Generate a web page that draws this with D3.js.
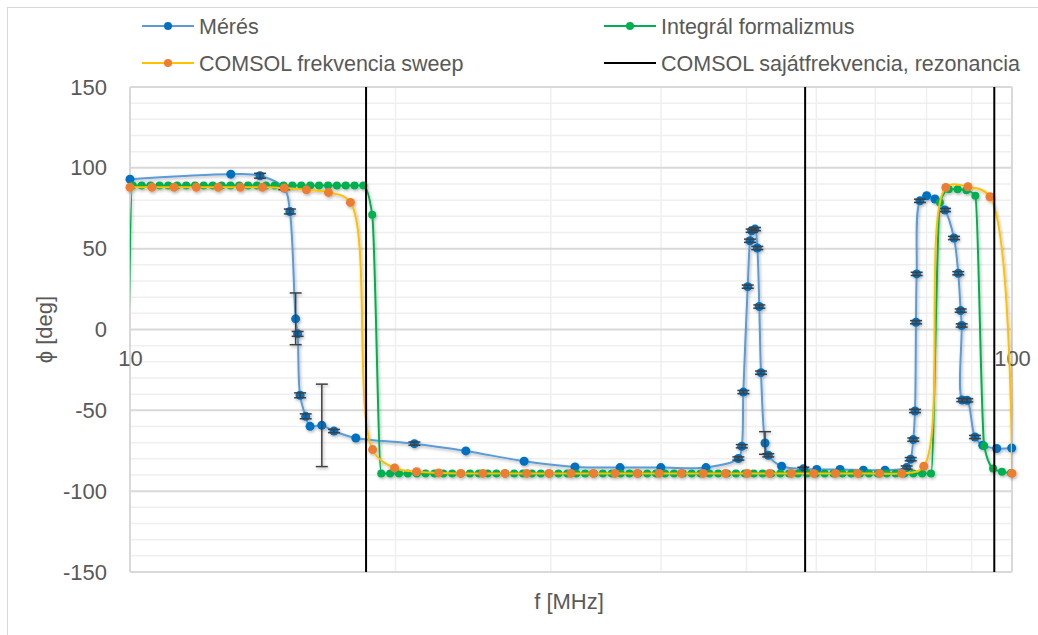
<!DOCTYPE html>
<html>
<head>
<meta charset="utf-8">
<title>Fázis - frekvencia</title>
<script src="https://d3js.org/d3.v7.min.js"></script>
<style>
body { margin: 0; background: #fff; }
svg { display: block; }
svg text { font-family: "Liberation Sans", Arial, sans-serif; fill: #595959; }
</style>
</head>
<body>
<div id="root"></div>
<script>
// --- data ---
let seriesNames = ['Mérés', 'Integrál formalizmus', 'COMSOL frekvencia sweep', 'COMSOL sajátfrekvencia, rezonancia'];

let measFreq = [10, 13.01, 14.04, 14.96, 15.18, 15.41, 15.49, 15.59, 15.82, 16.00,
    16.50, 17.03, 18.03, 21.01, 24.03, 27.98, 31.95, 35.94, 39.98, 44.98,
    48.95, 49.39, 49.59, 50.16, 50.46, 50.68, 51.12, 51.43, 51.70, 51.93,
    52.48, 52.93, 54.80, 58.00, 60.06, 63.82, 67.84, 71.78, 75.96, 76.76,
    77.28, 77.63, 77.83, 77.97, 78.64, 80.03, 81.78, 83.95, 85.94, 86.91,
    87.46, 87.69, 87.82, 88.97, 90.78, 92.65, 96.08, 99.92];
let measPhase = [93.0, 96.1, 95.1, 87.5, 73.0, 6.6, -2.7, -40.7, -53.7, -59.9,
    -59.3, -62.8, -67.1, -70.6, -75.1, -81.5, -85.0, -85.4, -85.4, -85.4,
    -79.8, -72.2, -38.7, 26.5, 54.9, 61.1, 62.1, 50.4, 14.2, -26.7,
    -70.2, -77.8, -84.6, -86.2, -86.6, -86.6, -87.0, -87.0, -85.4, -80.2,
    -68.1, -50.4, 4.5, 34.4, 79.6, 82.7, 80.7, 73.9, 56.6, 34.8,
    11.7, 2.5, -43.6, -43.8, -66.5, -71.6, -73.6, -73.3];
let measErr = [0, 0, 1.5, 1, 1.5, 16, 1.5, 1.5, 1.5, 0,
    25.5, 1, 0, 1, 0, 0, 0, 0, 0, 0,
    1, 1, 1, 1, 1, 1, 1, 1, 1, 1,
    7, 1, 0, 1, 0, 0, 0, 0, 1, 1,
    1, 1, 1, 1, 1, 0, 0, 1, 1, 1,
    1, 1, 1, 1, 1, 0, 0, 0];

let integralFreq = [9.84,
    10.07, 10.31, 10.55, 10.80, 11.05, 11.31, 11.58, 11.85, 12.12, 12.41,
    12.70, 13.00, 13.30, 13.61, 13.93, 14.26, 14.59, 14.93, 15.28, 15.64,
    16.01, 16.38, 16.77, 17.16, 17.56, 17.97, 18.39, 18.82, 19.27, 19.72,
    20.18, 20.65, 21.14, 21.63, 22.14, 22.66, 23.19, 23.73, 24.29, 24.86,
    25.44, 26.03, 26.64, 27.26, 27.90, 28.55, 29.22, 29.90, 30.60, 31.32,
    32.06, 32.81, 33.58, 34.36, 35.17, 35.99, 36.83, 37.70, 38.58, 39.48,
    40.42, 41.37, 42.34, 43.33, 44.34, 45.38, 46.44, 47.53, 48.64, 49.78,
    50.95, 52.14, 53.36, 54.61, 55.89, 57.20, 58.54, 59.91, 61.31, 62.75,
    64.21, 65.72, 67.26, 68.83, 70.45, 72.10, 73.78, 75.51, 77.28, 79.09,
    80.94, 82.84, 84.78, 86.76, 88.79, 90.87, 93.00, 95.18, 97.41, 99.73];
let integralPhase = [-269,
    89, 89, 89, 89, 89, 89, 89, 89, 89, 89,
    89, 89, 89, 89, 89, 89, 89, 89, 89, 89,
    89, 89, 89, 89, 89, 89, 89, 71, -89, -89,
    -89, -89, -89, -89, -89, -89, -89, -89, -89, -89,
    -89, -89, -89, -89, -89, -89, -89, -89, -89, -89,
    -89, -89, -89, -89, -89, -89, -89, -89, -89, -89,
    -89, -89, -89, -89, -89, -89, -89, -89, -89, -89,
    -89, -89, -89, -89, -89, -89, -89, -89, -89, -89,
    -89, -89, -89, -89, -89, -89, -89, -89, -89, -89,
    -89, 78.6, 86.8, 86.8, 86.2, 82.7, -72, -86, -88, -88.7];

let sweepFreq = [10, 10.59, 11.22, 11.89, 12.59, 13.34, 14.13, 14.96, 15.85, 16.79,
    17.78, 18.84, 19.95, 21.13, 22.39, 23.71, 25.12, 26.61, 28.18, 29.85,
    31.62, 33.50, 35.48, 37.58, 39.81, 42.17, 44.67, 47.32, 50.12, 53.09,
    56.23, 59.57, 63.10, 66.83, 70.79, 74.99, 79.43, 84.14, 89.13, 94.41, 100];
let sweepPhase = [88, 88, 88, 88, 88, 88, 88, 87.5, 86.4, 84.8,
    78.6, -74.3, -85.6, -88, -88.7, -89, -89, -89, -89, -89,
    -89, -89, -89, -89, -89, -89, -89, -89, -89, -89,
    -89, -89, -89, -89, -89, -89, -84.6, 87.8, 88.3, 82.1, -89];

let resonanceFreq = [18.52, 58.27, 95.48];

let yTicks = [-150, -100, -50, 0, 50, 100, 150];
let xTicks = [10, 100];

// --- layout ---
let width = 1038;
let height = 635;
let plot = { left: 130, right: 1012, top: 87, bottom: 572 };

let blue_line = '#5b9bd5';
let blue_dot = '#0070c0';
let green = '#00b050';
let yellow = '#ffc000';
let orange = '#ed7d31';
let grid_major = '#d9d9d9';
let grid_minor = '#efefef';

let x = d3.scaleLog().domain([10, 100]).range([plot.left, plot.right]);
let y = d3.scaleLinear().domain([-150, 150]).range([plot.bottom, plot.top]);

let svg = d3.select('#root').append('svg')
    .attr('width', width)
    .attr('height', height);

let defs = svg.append('defs');
defs.append('clipPath').attr('id', 'plot-clip')
    .append('rect')
    .attr('x', plot.left).attr('y', plot.top - 10)
    .attr('width', plot.right - plot.left).attr('height', plot.bottom - plot.top + 20);
defs.append('filter').attr('id', 'shadow')
    .attr('x', '-5%').attr('y', '-5%').attr('width', '110%').attr('height', '110%')
    .append('feDropShadow')
    .attr('dx', 1).attr('dy', 1.5)
    .attr('stdDeviation', 1.4)
    .attr('flood-color', '#000')
    .attr('flood-opacity', 0.3);

// chart area border
svg.append('rect')
    .attr('x', 7.5).attr('y', 7.5)
    .attr('width', width + 20).attr('height', height + 20)
    .attr('fill', '#fff')
    .attr('stroke', grid_major);

// gridlines
let grid = svg.append('g').attr('class', 'grid');
grid.selectAll('line.hminor')
    .data(y.ticks(30).filter(d => d % 50 !== 0))
    .join('line')
    .attr('x1', plot.left).attr('x2', plot.right)
    .attr('y1', d => y(d)).attr('y2', d => y(d))
    .attr('stroke', grid_minor).attr('stroke-width', 1.5);
grid.selectAll('line.vminor')
    .data(x.ticks().filter(d => d !== 10 && d !== 100))
    .join('line')
    .attr('x1', d => x(d)).attr('x2', d => x(d))
    .attr('y1', plot.top).attr('y2', plot.bottom)
    .attr('stroke', grid_minor).attr('stroke-width', 1.5);
grid.selectAll('line.hmajor')
    .data(yTicks)
    .join('line')
    .attr('x1', plot.left).attr('x2', plot.right)
    .attr('y1', d => y(d)).attr('y2', d => y(d))
    .attr('stroke', grid_major).attr('stroke-width', 2);
grid.selectAll('line.vmajor')
    .data(xTicks)
    .join('line')
    .attr('x1', d => x(d)).attr('x2', d => x(d))
    .attr('y1', plot.top).attr('y2', plot.bottom)
    .attr('stroke', grid_major).attr('stroke-width', 2);

// axes (labels only)
let axisY = svg.append('g')
    .attr('transform', `translate(${plot.left}, 0)`)
    .call(d3.axisLeft(y).tickValues(yTicks).tickFormat(d => String(d)).tickSize(0).tickPadding(23));
axisY.select('.domain').remove();
axisY.selectAll('text').attr('font-size', 22).attr('font-family', null);

let axisX = svg.append('g')
    .attr('transform', `translate(0, ${y(0)})`)
    .call(d3.axisBottom(x).tickValues(xTicks).tickFormat(d => String(d)).tickSize(0).tickPadding(21));
axisX.select('.domain').remove();
axisX.selectAll('text').attr('font-size', 22).attr('font-family', null);

svg.append('text')
    .attr('transform', `translate(44, ${(plot.top + plot.bottom) / 2}) rotate(-90)`)
    .attr('text-anchor', 'middle')
    .attr('dy', '0.35em')
    .attr('font-size', 22)
    .text('ϕ [deg]');
svg.append('text')
    .attr('x', 569).attr('y', 601)
    .attr('text-anchor', 'middle')
    .attr('dy', '0.35em')
    .attr('font-size', 22)
    .text('f [MHz]');

// series
let meas = measFreq.map((f, i) => ({ f, v: measPhase[i], e: measErr[i] }));
let integral = integralFreq.map((f, i) => ({ f, v: integralPhase[i] }));
let sweep = sweepFreq.map((f, i) => ({ f, v: sweepPhase[i] }));

let smooth = d3.line().x(d => x(d.f)).y(d => y(d.v)).curve(d3.curveCatmullRom.alpha(0.5));
let monotone = d3.line().x(d => x(d.f)).y(d => y(d.v)).curve(d3.curveMonotoneX);

let series = svg.append('g').attr('filter', 'url(#shadow)');

let gMeas = series.append('g');
gMeas.append('path')
    .attr('clip-path', 'url(#plot-clip)')
    .attr('d', smooth(meas))
    .attr('fill', 'none').attr('stroke', blue_line).attr('stroke-width', 2);
gMeas.selectAll('circle')
    .data(meas)
    .join('circle')
    .attr('cx', d => x(d.f)).attr('cy', d => y(d.v))
    .attr('r', 4.5)
    .attr('fill', blue_dot);
let bars = gMeas.selectAll('g.err')
    .data(meas.filter(d => d.e > 0))
    .join('g')
    .attr('class', 'err')
    .attr('stroke', '#404040')
    .attr('stroke-width', 1.5);
bars.append('line')
    .attr('x1', d => x(d.f)).attr('x2', d => x(d.f))
    .attr('y1', d => y(d.v + d.e)).attr('y2', d => y(d.v - d.e));
bars.selectAll('line.cap')
    .data(d => [d.v + d.e, d.v - d.e].map(v => ({ f: d.f, v })))
    .join('line')
    .attr('class', 'cap')
    .attr('x1', d => x(d.f) - 6).attr('x2', d => x(d.f) + 6)
    .attr('y1', d => y(d.v)).attr('y2', d => y(d.v));

let gInt = series.append('g');
gInt.append('path')
    .attr('clip-path', 'url(#plot-clip)')
    .attr('d', monotone(integral))
    .attr('fill', 'none').attr('stroke', green).attr('stroke-width', 2);
gInt.selectAll('circle')
    .data(integral.filter(d => d.f >= 10))
    .join('circle')
    .attr('cx', d => x(d.f)).attr('cy', d => y(d.v))
    .attr('r', 4)
    .attr('fill', green);

let gSweep = series.append('g');
gSweep.append('path')
    .attr('clip-path', 'url(#plot-clip)')
    .attr('d', smooth(sweep))
    .attr('fill', 'none').attr('stroke', yellow).attr('stroke-width', 2);
gSweep.selectAll('circle')
    .data(sweep)
    .join('circle')
    .attr('cx', d => x(d.f)).attr('cy', d => y(d.v))
    .attr('r', 4.5)
    .attr('fill', orange);

// eigenfrequency lines
svg.append('g').selectAll('line')
    .data(resonanceFreq)
    .join('line')
    .attr('x1', d => x(d)).attr('x2', d => x(d))
    .attr('y1', y(-150)).attr('y2', y(150))
    .attr('stroke', '#000').attr('stroke-width', 2);

// legend
let legendItems = [
    { name: seriesNames[0], line: blue_line, dot: blue_dot, lx: 142, ly: 26 },
    { name: seriesNames[1], line: green, dot: green, lx: 604, ly: 26 },
    { name: seriesNames[2], line: yellow, dot: orange, lx: 142, ly: 63 },
    { name: seriesNames[3], line: '#000', dot: null, lx: 604, ly: 63 }
];
let legend = svg.append('g').selectAll('g')
    .data(legendItems)
    .join('g')
    .attr('transform', d => `translate(${d.lx}, ${d.ly})`);
legend.append('line')
    .attr('x1', 0).attr('x2', 52)
    .attr('stroke', d => d.line).attr('stroke-width', 2);
legend.filter(d => d.dot)
    .append('circle')
    .attr('cx', 26).attr('r', 4)
    .attr('fill', d => d.dot);
legend.append('text')
    .attr('x', 57)
    .attr('dy', '0.35em')
    .attr('font-size', 21.5)
    .text(d => d.name);
</script>
</body>
</html>
